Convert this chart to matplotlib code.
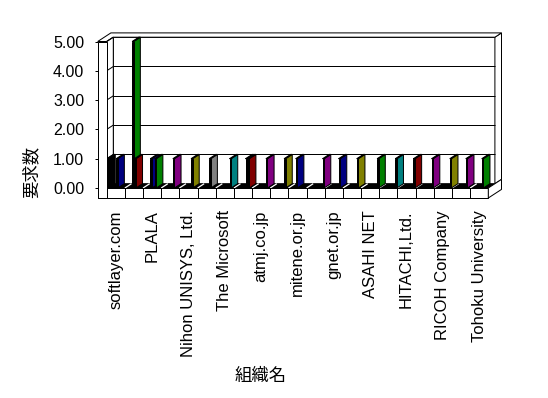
import matplotlib
matplotlib.use("Agg")
import matplotlib.pyplot as plt
from matplotlib.patches import Polygon

# ---------------- data ----------------
categories = ["softlayer.com", "", "PLALA", "", "Nihon UNISYS, Ltd.", "",
              "The Microsoft", "", "atmj.co.jp", "", "mitene.or.jp", "",
              "gnet.or.jp", "", "ASAHI NET", "", "HITACHI,Ltd.", "",
              "RICOH Company", "", "Tohoku University"]
bar_category = [0, 0, 1, 1, 2, 2, 3, 4, 5, 6, 7, 7, 8, 9, 10, 11, 12, 13,
                14, 15, 16, 17, 18, 19, 20]
bar_value = [1, 1, 5, 1, 1, 1, 1, 1, 1, 1, 1, 1, 1, 1, 1, 1, 1, 1,
             1, 1, 1, 1, 1, 1, 1]
bar_series = [0, 2, 1, 2, 1, 3, 3, 3, 3, 4, 3, 4, 4, 4, 1, 5, 4, 4,
              5, 5, 5, 5, 5, 4, 3]
bar_color = ["#000000", "#000080", "#008000", "#800000", "#000080", "#008000",
             "#800080", "#808000", "#808080", "#008080", "#008000", "#800000",
             "#800080", "#808000", "#000080", "#800080", "#000080", "#808000",
             "#008000", "#008080", "#800000", "#800080", "#808000", "#800080",
             "#008000"]
y_ticks = [0, 1, 2, 3, 4, 5]
y_label = "要求数"
x_label = "組織名"

# ---------------- layout ----------------
W, H = 548, 398
fig = plt.figure(figsize=(W / 100, H / 100), dpi=100)
fig.patch.set_facecolor("white")
n = len(categories)
X0, X1 = 106.7, 488.3      # front plane x pixels
Y0, Y5 = 188.0, 41.5       # front plane y pixels for 0 and 5
ax = fig.add_axes([X0 / W, 1 - Y0 / H, (X1 - X0) / W, (Y0 - Y5) / H])
ax.set_xlim(0, n)
ax.set_ylim(0, 5)
ax.patch.set_visible(False)
PXX = (X1 - X0) / n
PXY = (Y0 - Y5) / 5
DX = 6.6 / PXX
DY = 4.3 / PXY
WALL = 9.0 / PXX
FT = 10.0 / PXY
SLOT = [0.02, 0.40, 0.52, 0.64, 0.76, 0.88]
FRONT_W = 1.6 / PXX
LW = 0.72


def P(x, y, z=0.0):
    return (x + z * DX, y + z * DY)


def poly(pts, fc, ec="black", lw=LW, z=1):
    ax.add_patch(Polygon(pts, closed=True, facecolor=fc, edgecolor=ec,
                         linewidth=lw, clip_on=False, zorder=z,
                         joinstyle="miter"))


def line(a, b, c="black", lw=LW, z=2):
    ax.plot([a[0], b[0]], [a[1], b[1]], color=c, lw=lw, clip_on=False,
            zorder=z, solid_capstyle="butt")


top = y_ticks[-1]
# back wall (inner face), top & right faces
poly([P(0, 0, 1), P(n, 0, 1), P(n, top, 1), P(0, top, 1)], "white", z=1)
for t in y_ticks[1:-1]:
    line(P(0, t, 1), P(n, t, 1), z=1.5)
poly([P(n, 0, 1), P(n, top, 1), P(n, top, 2), P(n, 0, 2)], "white", z=1)
poly([P(-WALL, top, 0), P(0, top, 0), P(0, top, 1), P(n, top, 1),
      P(n, top, 2), P(-WALL, top, 2)], "white", z=1)
# left wall inner face
poly([P(0, 0, 0), P(0, top, 0), P(0, top, 1), P(0, 0, 1)], "white", z=1)
for t in y_ticks[1:]:
    line(P(0, t, 0), P(0, t, 1), z=1.5)
# floor top (dark) with depth grid
poly([P(0, 0, 0), P(n, 0, 0), P(n, 0, 1), P(0, 0, 1)], "black", z=1.6)
for k in range(1, n):
    line(P(k, 0, 0), P(k, 0, 1), c="white", lw=0.9, z=1.7)
# floor front + right faces
poly([P(-WALL, -FT), P(n, -FT), P(n, 0), P(-WALL, 0)], "white", z=3)
for k in range(1, n):
    line(P(k, -FT), P(k, 0), z=3.1)
poly([P(n, -FT, 0), P(n, 0, 0), P(n, 0, 2), P(n, -FT, 2)], "white", z=3)
# left wall front face
poly([P(-WALL, -FT), P(0, -FT), P(0, top), P(-WALL, top)], "white", z=3)

# bars: draw left to right
order = sorted(range(len(bar_value)),
               key=lambda i: bar_category[i] + SLOT[bar_series[i]])
for j, i in enumerate(order):
    x = bar_category[i] + SLOT[bar_series[i]]
    v = bar_value[i]
    c = bar_color[i]
    zz = 2 + j * 0.01
    xr = x + FRONT_W
    poly([P(xr, 0, 0), P(xr, 0, 1), P(xr, v, 1), P(xr, v, 0)], c, z=zz)
    poly([P(x, v, 0), P(xr, v, 0), P(xr, v, 1), P(x, v, 1)], c, z=zz)
    poly([P(x, 0), P(xr, 0), P(xr, v), P(x, v)], "black", z=zz)

# axes / ticks
for s in ax.spines.values():
    s.set_visible(False)
ax.spines["left"].set_position(("data", -WALL))
ax.set_yticks(y_ticks)
ax.set_yticklabels([f"{t:.2f}" for t in y_ticks])
ax.tick_params(axis="y", direction="out", length=2.2, width=LW, pad=7.5,
               labelsize=11.5, colors="black")
for lab in ax.get_yticklabels():
    lab.set_family("Liberation Sans")

lab_pos = [k + 0.5 for k in range(n) if categories[k]]
ax.set_xticks(lab_pos)
ax.set_xticklabels([c for c in categories if c], rotation=90,
                   family="Liberation Sans", fontsize=12)
ax.tick_params(axis="x", length=0, pad=16)
for lab in ax.get_xticklabels():
    lab.set_verticalalignment("top")
    lab.set_horizontalalignment("center")

fig.text(31 / W, 1 - 172 / H, y_label, rotation=90, ha="center", va="center",
         fontsize=12.5, family=["Noto Sans CJK JP", "DejaVu Sans"])
fig.text(261 / W, 1 - 376 / H, x_label, ha="center", va="center",
         fontsize=12.5, family=["Noto Sans CJK JP", "DejaVu Sans"])

fig.savefig("out.png", dpi=100, facecolor="white")
